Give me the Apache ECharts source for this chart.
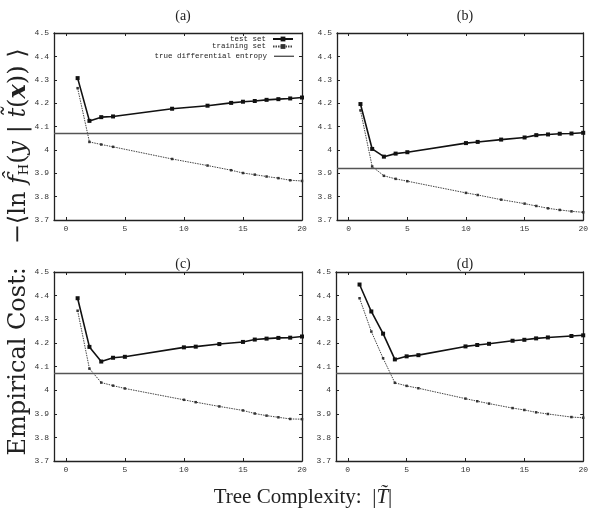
<!DOCTYPE html>
<html>
<head>
<meta charset="utf-8">
<script src="https://cdn.jsdelivr.net/npm/echarts@6/dist/echarts.min.js"></script>
<style>
  html, body { margin: 0; padding: 0; background: #fff; }
  #chart { width: 591px; height: 515px; }
</style>
</head>
<body>
<div id="chart"></div>
<script>
// data
var xTicks = [0, 5, 10, 15, 20];
var panelNames = ['(a)', '(b)', '(c)', '(d)'];

var xsA = [1, 2, 3, 4, 9, 12, 14, 15, 16, 17, 18, 19, 20];
var testA = [4.307, 4.124, 4.140, 4.143, 4.176, 4.189, 4.201, 4.206, 4.209, 4.214, 4.217, 4.220, 4.224];
var trainA = [4.264, 4.034, 4.023, 4.013, 3.961, 3.933, 3.913, 3.901, 3.894, 3.886, 3.879, 3.870, 3.867];

var xsB = [1, 2, 3, 4, 5, 10, 11, 13, 15, 16, 17, 18, 19, 20];
var testB = [4.196, 4.004, 3.971, 3.984, 3.990, 4.029, 4.034, 4.044, 4.053, 4.063, 4.066, 4.069, 4.070, 4.073];
var trainB = [4.169, 3.929, 3.889, 3.876, 3.866, 3.816, 3.807, 3.787, 3.770, 3.760, 3.750, 3.743, 3.737, 3.733];

var xsC = [1, 2, 3, 4, 5, 10, 11, 13, 15, 16, 17, 18, 19, 20];
var testC = [4.389, 4.183, 4.121, 4.137, 4.141, 4.181, 4.184, 4.195, 4.204, 4.214, 4.218, 4.221, 4.222, 4.227];
var trainC = [4.336, 4.091, 4.032, 4.019, 4.007, 3.959, 3.949, 3.931, 3.914, 3.901, 3.892, 3.885, 3.878, 3.877];

var xsD = [1, 2, 3, 4, 5, 6, 10, 11, 12, 14, 15, 16, 17, 19, 20];
var testD = [4.447, 4.333, 4.239, 4.130, 4.143, 4.148, 4.185, 4.191, 4.196, 4.209, 4.213, 4.219, 4.223, 4.229, 4.232];
var trainD = [4.389, 4.248, 4.135, 4.031, 4.018, 4.008, 3.964, 3.953, 3.943, 3.924, 3.916, 3.906, 3.899, 3.886, 3.883];

var entropy = [4.07, 3.921, 4.07, 4.07];

var panels = [
  { xs: xsA, test: testA, train: trainA },
  { xs: xsB, test: testB, train: trainB },
  { xs: xsC, test: testC, train: trainC },
  { xs: xsD, test: testD, train: trainD }
];

var grids = [
  { left: 54, top: 33, width: 248, height: 187 },
  { left: 337, top: 33, width: 247, height: 187 },
  { left: 54, top: 272, width: 248, height: 189 },
  { left: 336, top: 272, width: 248, height: 189 }
];
var titleX = [178, 460, 178, 460];
var titleY = [4, 4, 252, 252];

var mono = 'Liberation Mono';
var serif = 'Liberation Serif';
var frame = { show: true, onZero: false, lineStyle: { color: '#222', width: 1.3 } };

function zip(xs, ys) {
  return xs.map(function (x, i) { return [x, ys[i]]; });
}

var xAxes = [], yAxes = [], series = [], titles = [];
grids.forEach(function (g, i) {
  xAxes.push({
    type: 'value', gridIndex: i, position: 'bottom', min: -1, max: 20,
    axisLine: frame, splitLine: { show: false },
    axisTick: { inside: true, length: 3, customValues: xTicks, lineStyle: { color: '#222' } },
    axisLabel: { customValues: xTicks, fontFamily: mono, fontSize: 8, color: '#333', margin: 5 }
  });
  xAxes.push({
    type: 'value', gridIndex: i, position: 'top', min: -1, max: 20,
    axisLine: frame, splitLine: { show: false },
    axisTick: { inside: true, length: 3, customValues: xTicks, lineStyle: { color: '#222' } },
    axisLabel: { show: false }
  });
  yAxes.push({
    type: 'value', gridIndex: i, position: 'left', min: 3.7, max: 4.5, interval: 0.1,
    axisLine: frame, splitLine: { show: false },
    axisTick: { inside: true, length: 3, lineStyle: { color: '#222' } },
    axisLabel: { fontFamily: mono, fontSize: 8, color: '#333', margin: 5 }
  });
  yAxes.push({
    type: 'value', gridIndex: i, position: 'right', min: 3.7, max: 4.5, interval: 0.1,
    axisLine: frame, splitLine: { show: false },
    axisTick: { inside: true, length: 3, lineStyle: { color: '#222' } },
    axisLabel: { show: false }
  });

  var p = panels[i];
  series.push({
    name: 'test set', type: 'line', xAxisIndex: 2 * i, yAxisIndex: 2 * i,
    data: zip(p.xs, p.test), symbol: 'rect', symbolSize: 4, showSymbol: true,
    lineStyle: { color: '#111', width: 1.6 }, itemStyle: { color: '#111' },
    animation: false, z: 4
  });
  series.push({
    name: 'training set', type: 'line', xAxisIndex: 2 * i, yAxisIndex: 2 * i,
    data: zip(p.xs, p.train), symbol: 'rect', symbolSize: 2.5, showSymbol: true,
    lineStyle: { color: '#444', width: 1, type: [1.5, 1] }, itemStyle: { color: '#333' },
    animation: false, z: 3
  });
  series.push({
    name: 'true differential entropy', type: 'line', xAxisIndex: 2 * i, yAxisIndex: 2 * i,
    data: [], symbol: 'none',
    lineStyle: { color: '#555', width: 1.4 }, itemStyle: { color: '#555' },
    markLine: {
      silent: true, symbol: 'none', label: { show: false }, animation: false,
      lineStyle: { color: '#555', width: 1.4, type: 'solid' },
      data: [{ yAxis: entropy[i] }]
    },
    animation: false, z: 2
  });

  titles.push({
    text: panelNames[i], left: titleX[i], top: titleY[i], textAlign: 'center',
    textStyle: { fontFamily: serif, fontSize: 14, fontWeight: 'normal', color: '#222' }
  });
});

// legend lives in panel (a) only: one legend per row so the line samples line up on the right
var legendNames = ['test set', 'training set', 'true differential entropy'];
var legends = legendNames.map(function (n, k) {
  var last = k === 2;
  return {
    data: [last ? { name: n, icon: 'rect' } : n],
    right: 297, top: 35 + k * 7.5 + (last ? 2.3 : 0), orient: 'vertical', align: 'right',
    itemWidth: 20, itemHeight: last ? 1.4 : 6, itemGap: 0, padding: 0, selectedMode: false,
    textStyle: { fontFamily: mono, fontSize: 7.5, color: '#222', padding: [0, 2, 0, 0] }
  };
});

var chart = echarts.init(document.getElementById('chart'), null, { renderer: 'canvas' });
chart.setOption({
  backgroundColor: '#fff',
  animation: false,
  title: titles,
  legend: legends,
  grid: grids,
  xAxis: xAxes,
  yAxis: yAxes,
  series: series,
  graphic: [
    {
      type: 'text', x: 19, y: 252, rotation: Math.PI / 2,
      style: {
        text: '{n|Empirical Cost:   \u2212\u27E8ln }{i|f\u0302}{s|H}{n|(}{i|y}{n| | }{i|t\u0303}{n|(}{b|x}{n|)) \u27E9}',
        align: 'center', verticalAlign: 'middle', fill: '#222',
        rich: {
          n: { fontFamily: 'DejaVu Serif', fontSize: 24, fill: '#222' },
          i: { fontFamily: 'DejaVu Serif', fontSize: 24, fontStyle: 'italic', fill: '#222' },
          b: { fontFamily: 'DejaVu Serif', fontSize: 24, fontStyle: 'italic', fontWeight: 'bold', fill: '#222' },
          s: { fontFamily: 'DejaVu Serif', fontSize: 13, fill: '#222', verticalAlign: 'bottom' }
        }
      }
    },
    {
      type: 'text', x: 303, y: 497,
      style: {
        text: '{n|Tree Complexity:  |}{i|T\u0303}{n||}',
        align: 'center', verticalAlign: 'middle', fill: '#222',
        rich: {
          n: { fontFamily: serif, fontSize: 21, fill: '#222' },
          i: { fontFamily: serif, fontSize: 21, fontStyle: 'italic', fill: '#222' }
        }
      }
    }
  ]
});
</script>
</body>
</html>
